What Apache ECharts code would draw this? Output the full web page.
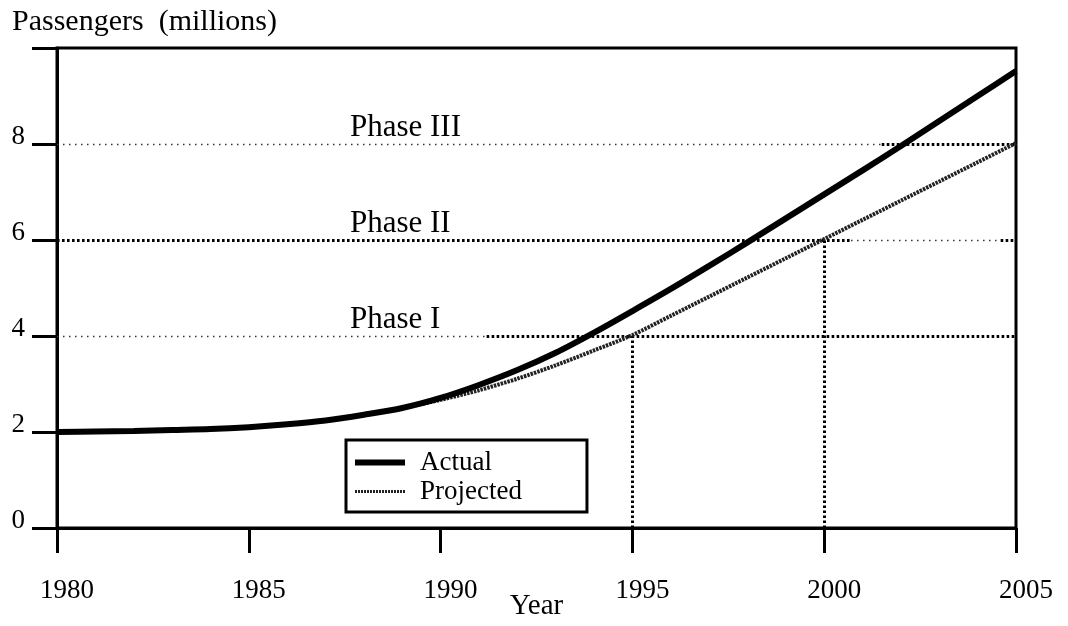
<!DOCTYPE html>
<html>
<head>
<meta charset="utf-8">
<script src="https://cdn.jsdelivr.net/npm/echarts@6/dist/echarts.min.js"></script>
<style>
html,body{margin:0;padding:0;background:#fff;}
#chart{width:1068px;height:626px;}
</style>
</head>
<body>
<div id="chart"></div>
<script>
// ---- data ----
const years = [1980,1981,1982,1983,1984,1985,1986,1987,1988,1989,1990,1991,1992,1993,1994,1995,1996,1997,1998,1999,2000,2001,2002,2003,2004,2005];
const actual = [2.00,2.01,2.02,2.04,2.06,2.10,2.16,2.24,2.36,2.50,2.71,2.98,3.29,3.65,4.07,4.52,4.98,5.46,5.95,6.45,6.95,7.45,7.96,8.48,9.00,9.52];
const projected = [2.00,2.01,2.02,2.04,2.06,2.10,2.16,2.24,2.36,2.50,2.67,2.87,3.11,3.39,3.70,4.02,4.42,4.82,5.22,5.62,6.02,6.42,6.82,7.22,7.62,8.02];
const seriesNames = ['Actual','Projected'];
const xTicks = [1980,1985,1990,1995,2000,2005];
const yTicks = [0,2,4,6,8];
const phaseNames = ['Phase I','Phase II','Phase III'];
const phaseValues = [4,6,8];
const phaseLabelYear = 1987.65;
const phaseDropYears = [1995,2000]; // where projected reaches Phase I / Phase II
const phaseDropValues = [4,6];
const xLabel = 'Year';
const yLabel = 'Passengers  (millions)';

const FONT = '"Liberation Serif", "Times New Roman", serif';

const thin = {type:[1.5,4.5], width:1.3, color:'#333'};
const thick = {type:[2.6,2.4], width:3, color:'#000'};

function seg(y, x0, x1, st){
  return [{coord:[x0,y], lineStyle:st}, {coord:[x1,y]}];
}
const refLines = [
  seg(phaseValues[0], 1980, 1991.2, thin),
  seg(phaseValues[0], 1991.2, 2005, thick),
  seg(phaseValues[1], 1980, 2000.7, thick),
  seg(phaseValues[1], 2000.7, 2004.6, thin),
  seg(phaseValues[1], 2004.6, 2005, thick),
  seg(phaseValues[2], 1980, 2001.5, thin),
  seg(phaseValues[2], 2001.5, 2005, thick),
  [{coord:[phaseDropYears[0],0], lineStyle:thick},{coord:[phaseDropYears[0],phaseDropValues[0]]}],
  [{coord:[phaseDropYears[1],0], lineStyle:thick},{coord:[phaseDropYears[1],phaseDropValues[1]]}]
];

// dotted legend glyph for the projected line
let dots = '';
for (let i = 0; i < 17; i++) dots += 'M' + (3*i) + ',0h2v3h-2z';
const dottedIcon = 'path://' + dots;

const chart = echarts.init(document.getElementById('chart'), null, {renderer:'canvas'});
chart.setOption({
  animation:false,
  backgroundColor:'#fff',
  textStyle:{fontFamily:FONT, color:'#000'},
  grid:{left:57, right:52, top:48, bottom:98, containLabel:false, outerBoundsMode:'none',
    show:true, borderColor:'#000', borderWidth:3, backgroundColor:'transparent'},
  title:{text:yLabel, left:7, top:2, textStyle:{fontFamily:FONT, fontSize:30, fontWeight:'normal', color:'#000'}},
  legend:{
    data:[
      {name:seriesNames[0], icon:'rect', itemStyle:{color:'#000'}},
      {name:seriesNames[1], icon:dottedIcon, itemStyle:{color:'#222'}}
    ],
    orient:'vertical', left:346, top:440,
    borderColor:'#000', borderWidth:3, borderRadius:0,
    padding:[9,65,7,9], itemGap:2, itemWidth:50, itemHeight:6,
    textStyle:{fontFamily:FONT, fontSize:27, color:'#000', padding:[0,0,0,10]}
  },
  xAxis:{
    type:'value', min:1980, max:2005, interval:5,
    name:xLabel, nameLocation:'middle', nameGap:64, nameMoveOverlap:false,
    nameTextStyle:{fontFamily:FONT, fontSize:29, color:'#000'},
    axisLine:{show:true, lineStyle:{color:'#000', width:3}},
    axisTick:{show:true, inside:false, length:25, lineStyle:{color:'#000', width:3}},
    axisLabel:{show:true, margin:49, fontFamily:FONT, fontSize:27, color:'#000', padding:[0,0,0,20],
      formatter:function(v){return xTicks.indexOf(v)>=0 ? String(v) : '';}},
    splitLine:{show:false}
  },
  yAxis:{
    type:'value', min:0, max:10, interval:2,
    axisLine:{show:true, lineStyle:{color:'#000', width:3}},
    axisTick:{show:true, inside:false, length:25, lineStyle:{color:'#000', width:3}},
    axisLabel:{show:true, margin:32, fontFamily:FONT, fontSize:27, color:'#000', verticalAlign:'bottom', lineHeight:14,
      formatter:function(v){return yTicks.indexOf(v)>=0 ? String(v) : '';}},
    splitLine:{show:false}
  },
  series:[
    {
      name:seriesNames[1], type:'line', data:years.map((y,i)=>[y,projected[i]]),
      smooth:0.3, showSymbol:false, symbol:'none', z:3,
      lineStyle:{color:'#222', width:4, type:[2.5,1]},
      itemStyle:{color:'#222'},
      markLine:{silent:true, symbol:['none','none'], label:{show:false}, data:refLines, z:1}
    },
    {
      name:seriesNames[0], type:'line', data:years.map((y,i)=>[y,actual[i]]),
      smooth:0.3, showSymbol:false, symbol:'none', z:4,
      lineStyle:{color:'#000', width:6},
      itemStyle:{color:'#000'}
    },
    {
      name:'phaseLabels', type:'scatter', symbolSize:1, silent:true, z:5,
      itemStyle:{color:'transparent', opacity:1},
      data:phaseValues.map((v,i)=>({value:[phaseLabelYear,v], name:phaseNames[i]})),
      label:{show:true, position:[0,0], align:'left', verticalAlign:'bottom',
        fontFamily:FONT, fontSize:31, color:'#000', opacity:1, formatter:p=>p.name}
    }
  ]
});
</script>
</body>
</html>
